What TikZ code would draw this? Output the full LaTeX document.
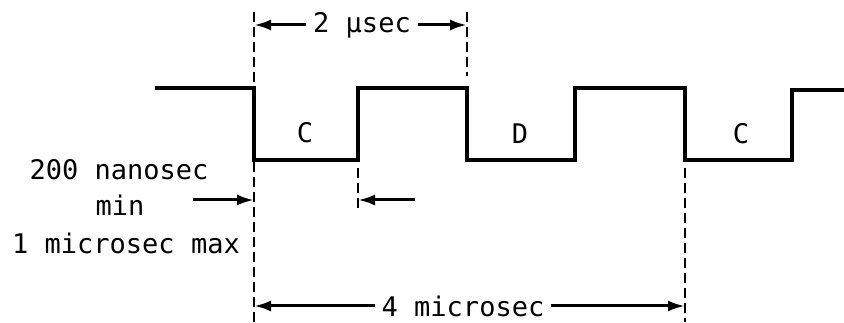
\documentclass[tikz,border=0pt]{standalone}
\usepackage{fontspec}
\setmainfont{DejaVu Sans Mono}
\usetikzlibrary{arrows.meta}
\tikzset{
  wave/.style={line width=3.5pt, line join=miter},
  guide/.style={line width=2.5pt, dash pattern=on 10pt off 5pt},
  dim/.style={line width=3pt, shorten <=6pt, -{Latex[length=17pt,width=11pt]}},
  lbl/.style={font=\fontsize{27}{31}\selectfont, inner sep=1pt},
}
\begin{document}
\begin{tikzpicture}[x=1pt, y=-1pt]
            \useasboundingbox (0,0) rectangle (844,323);
            % pulse train
            \draw[wave] (155,88) -- (254,88) -- (254,160) -- (358,160) -- (358,88) -- (467,88) -- (467,160)
                -- (575,160) -- (575,88) -- (685,88) -- (685,160) -- (792,160) -- (792,90) -- (844,90);
            \node[lbl] (c1) at (305,133) {C};
            \node[lbl] (d1) at (520,134) {D};
            \node[lbl] (c2) at (741,134) {C};
            % guide lines
            \coordinate (a1) at (254,25);
            \coordinate (a2) at (467,25);
            \coordinate (b1) at (254,200);
            \coordinate (b2) at (358,200);
            \coordinate (f1) at (254,306);
            \coordinate (f2) at (685,306);
            \draw[guide] (254,12) -- (254,322);
            \draw[guide] (467,12) -- (467,76);
            \draw[guide] (358,168) -- (358,210);
            \draw[guide] (685,168) -- (685,322);
            % dimensions
            \node[lbl] (two) at (362,25) {2 μsec};
            \draw[dim] (two.west) -- (a1);
            \draw[dim] (two.east) -- (a2);
            \node[lbl] (ns) at (119,170) {200 nanosec};
            \node[lbl] (mn) at (120,205) {min};
            \node[lbl] (mx) at (126,243) {1 microsec max};
            \coordinate (s1) at (193,200);
            \coordinate (s2) at (415,200);
            \draw[dim, shorten <=0pt] (s1) -- (b1);
            \draw[dim, shorten <=0pt] (s2) -- (b2);
            \node[lbl] (four) at (463,306) {4 microsec};
            \draw[dim] (four.west) -- (f1);
            \draw[dim] (four.east) -- (f2);
        \end{tikzpicture}
\end{document}
